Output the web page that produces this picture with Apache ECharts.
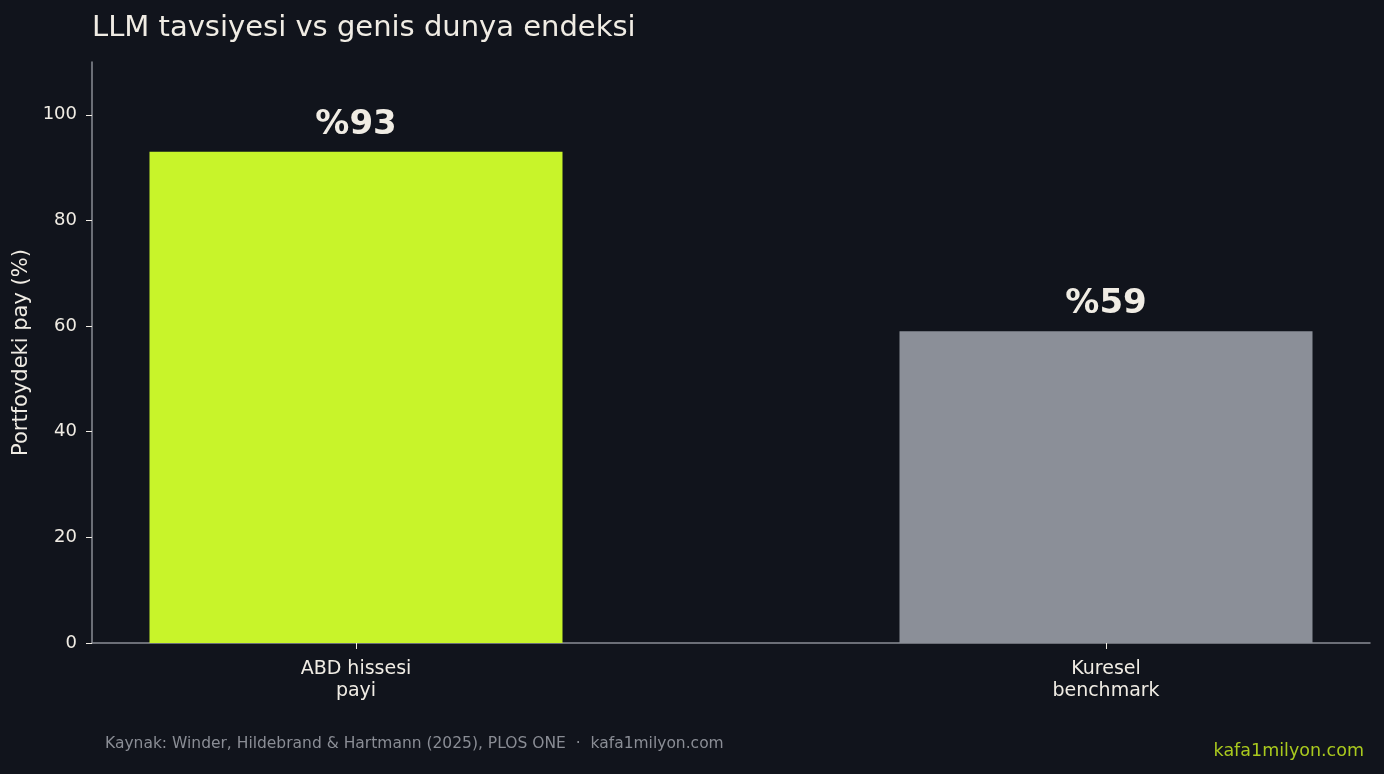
<!DOCTYPE html>
<html>
<head>
<meta charset="utf-8">
<script src="https://cdn.jsdelivr.net/npm/echarts@6/dist/echarts.min.js"></script>
<style>
html, body { margin: 0; padding: 0; background: #11141c; }
#chart { width: 1384px; height: 774px; }
</style>
</head>
<body>
<div id="chart"></div>
<script>
// veriler
const categories = ['ABD hissesi\npayi', 'Kuresel\nbenchmark'];
const shares = [93, 59];
const barColors = ['#c8f42a', '#8b8f98'];
const yTicks = [0, 20, 40, 60, 80, 100];

const chart = echarts.init(document.getElementById('chart'));

const font = 'DejaVu Sans, sans-serif';
const textColor = '#f0ece4';
const axisColor = '#8a8d95';

let option = {
	backgroundColor: '#11141c',
	animation: false,
	title: [{
		text: 'LLM tavsiyesi vs genis dunya endeksi',
		left: 87,
		top: 9,
		textStyle: {
			color: textColor,
			fontFamily: font,
			fontWeight: 'normal',
			fontSize: 29
		}
	}],
	graphic: [{
		type: 'text',
		left: 105,
		top: 736,
		style: {
			text: 'Kaynak: Winder, Hildebrand & Hartmann (2025), PLOS ONE  \u00b7  kafa1milyon.com',
			fill: axisColor,
			font: '15.5px DejaVu Sans'
		}
	}, {
		type: 'text',
		right: 20,
		top: 742,
		style: {
			text: 'kafa1milyon.com',
			fill: '#a9c91e',
			font: '17.5px DejaVu Sans'
		}
	}],
	grid: {
		left: 92,
		right: 14,
		top: 62,
		bottom: 131
	},
	xAxis: {
		type: 'value',
		min: -0.352,
		max: 1.352,
		splitLine: { show: false },
		axisLine: {
			onZero: false,
			lineStyle: { color: axisColor, width: 1.5 }
		},
		axisTick: {
			show: true,
			length: 6,
			customValues: [0, 1],
			lineStyle: { color: textColor }
		},
		axisLabel: {
			customValues: [0, 1],
			margin: 15,
			color: textColor,
			fontFamily: font,
			fontSize: 19,
			lineHeight: 22,
			formatter: function(v) {
				return categories[Math.round(v)];
			}
		}
	},
	yAxis: {
		type: 'value',
		min: 0,
		max: 110,
		name: 'Portfoydeki pay (%)',
		nameLocation: 'middle',
		nameGap: 59,
		nameTextStyle: {
			color: textColor,
			fontFamily: font,
			fontSize: 21
		},
		splitLine: { show: false },
		axisLine: {
			show: true,
			onZero: false,
			lineStyle: { color: axisColor, width: 1.5 }
		},
		axisTick: {
			show: true,
			length: 6,
			customValues: yTicks,
			lineStyle: { color: textColor }
		},
		axisLabel: {
			customValues: yTicks,
			margin: 15,
			padding: [5, 0, 0, 0],
			color: textColor,
			fontFamily: font,
			fontSize: 18
		}
	},
	series: [{
		type: 'bar',
		barWidth: 413,
		data: shares.map(function(v, i) {
			return {
				value: [i, v],
				itemStyle: { color: barColors[i] }
			};
		}),
		label: {
			show: true,
			position: 'top',
			distance: 10,
			color: textColor,
			fontFamily: font,
			fontWeight: 'bold',
			fontSize: 34,
			formatter: function(p) {
				return '%' + p.value[1];
			}
		}
	}]
};
chart.setOption(option);
</script>
</body>
</html>
